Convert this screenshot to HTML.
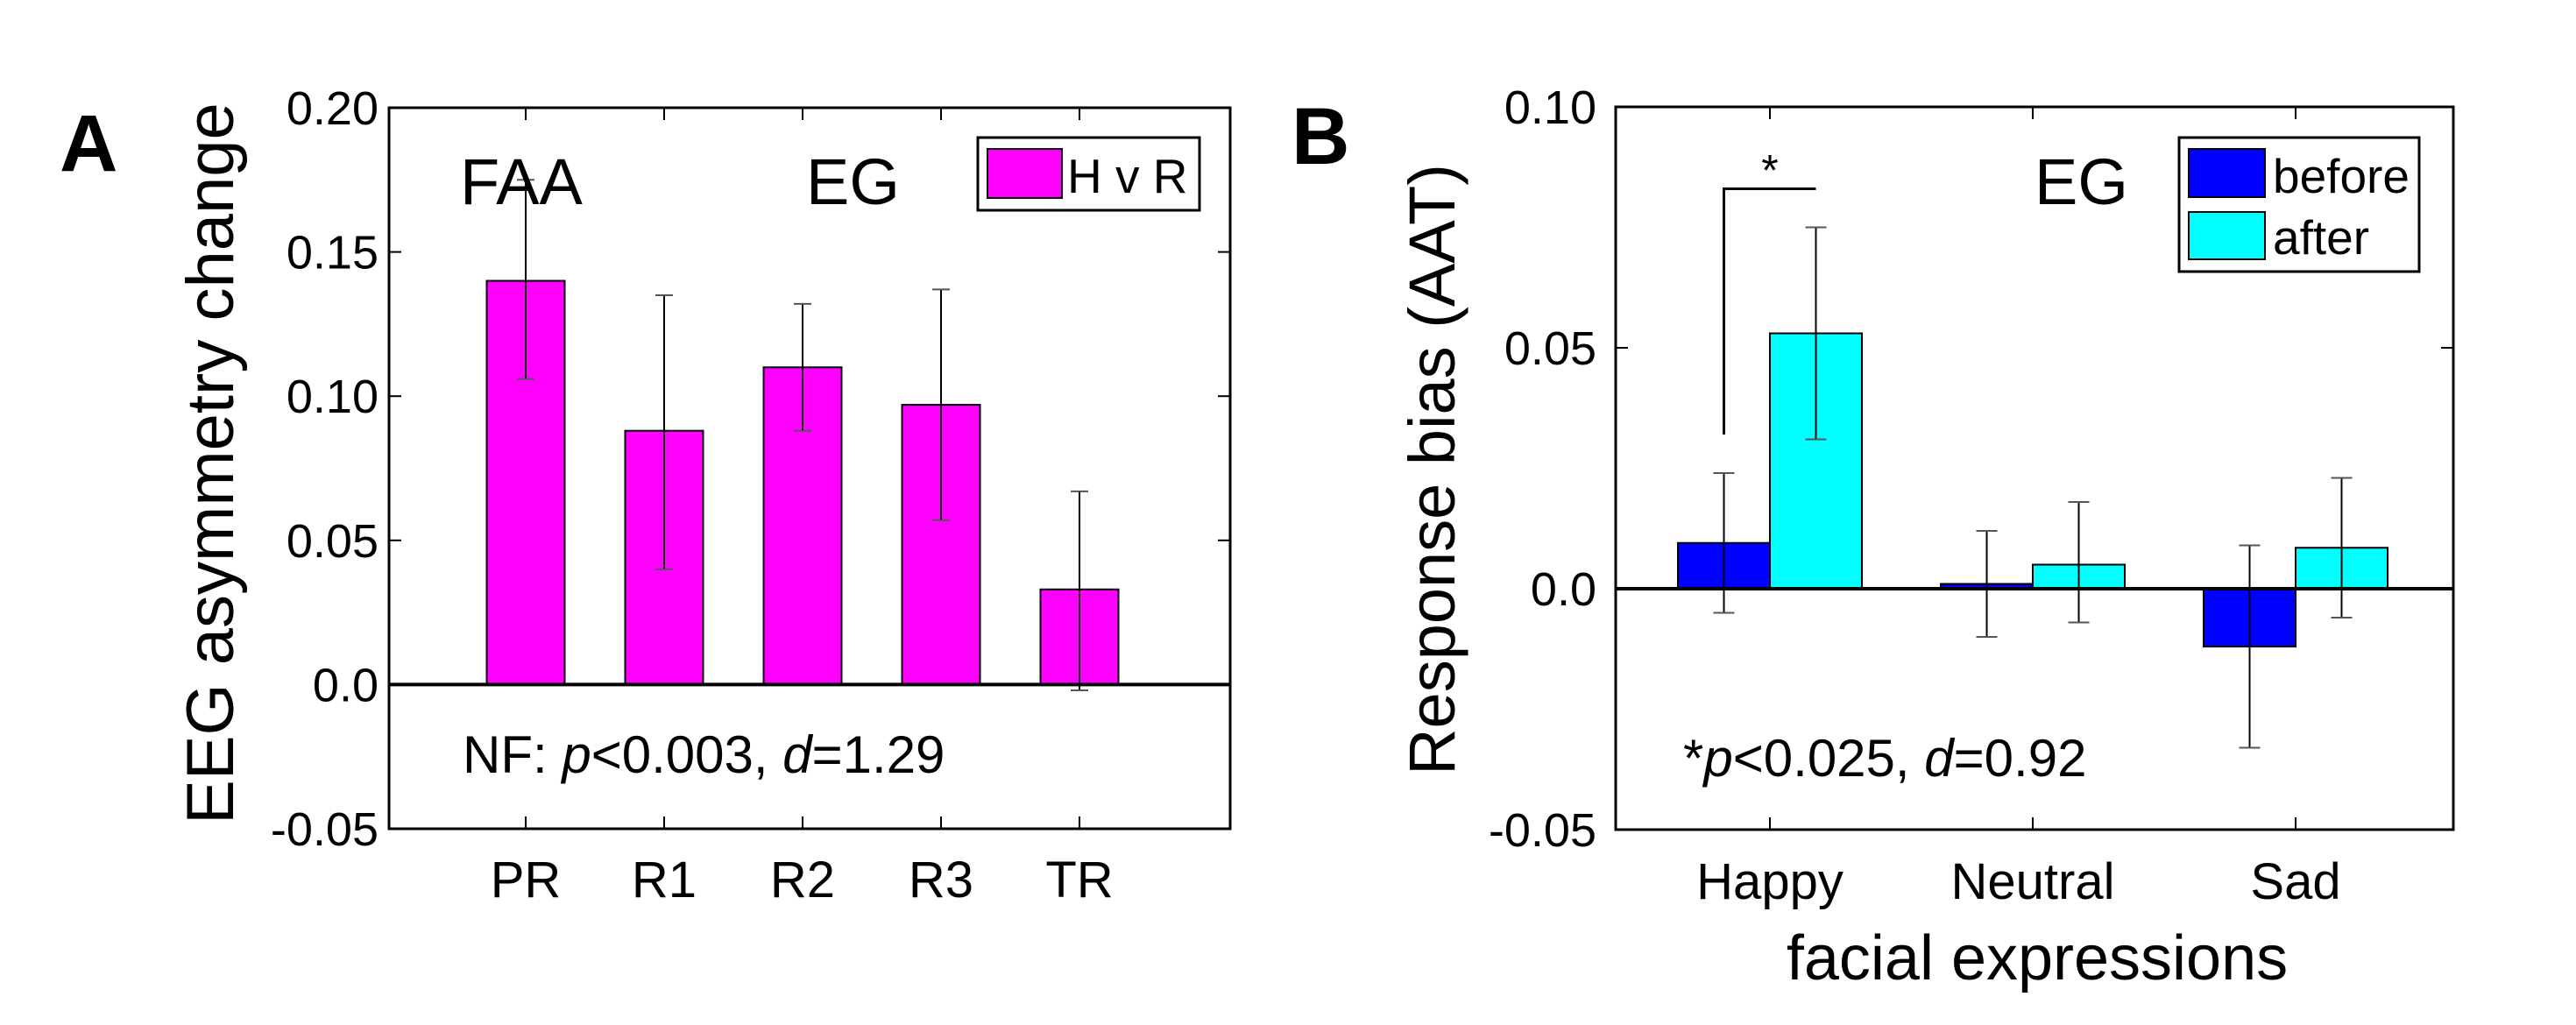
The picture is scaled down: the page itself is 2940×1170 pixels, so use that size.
<!DOCTYPE html>
<html><head><meta charset="utf-8"><style>
html,body{margin:0;padding:0;background:#fff;width:2940px;height:1170px;overflow:hidden}
svg text{font-family:"Liberation Sans",Arial,sans-serif;fill:#000}
</style></head><body>
<svg id="fig" width="2940" height="1170" viewBox="0 0 2940 1170" xmlns="http://www.w3.org/2000/svg">
<g id="pa"></g>
<g id="pb"></g>
</svg>
<script>
// Panel A data
const catsA = ["PR","R1","R2","R3","TR"];
const valsA = [0.140, 0.088, 0.110, 0.097, 0.033];
const errLoA = [0.106, 0.040, 0.088, 0.057, -0.002];
const errHiA = [0.175, 0.135, 0.132, 0.137, 0.067];
const ticksA = [0.20, 0.15, 0.10, 0.05, 0.0, -0.05];
const tickLabelsA = ["0.20","0.15","0.10","0.05","0.0","-0.05"];
// Panel B data
const catsB = ["Happy","Neutral","Sad"];
const beforeB = [0.0095, 0.001, -0.012];
const afterB = [0.053, 0.005, 0.0085];
const beforeLoB = [-0.005, -0.010, -0.033];
const beforeHiB = [0.024, 0.012, 0.009];
const afterLoB = [0.031, -0.007, -0.006];
const afterHiB = [0.075, 0.018, 0.023];
const ticksB = [0.10, 0.05, 0.0, -0.05];
const tickLabelsB = ["0.10","0.05","0.0","-0.05"];

const NS="http://www.w3.org/2000/svg";
function mk(parent,tag,attrs,txt){const e=document.createElementNS(NS,tag);for(const k in attrs)e.setAttribute(k,attrs[k]);if(txt!==undefined)e.textContent=txt;parent.appendChild(e);return e;}

// ---------- Panel A ----------
(function(){
const g=document.getElementById('pa');
const L=444,R=1404,T=123,B=946,ymax=0.20,ymin=-0.05;
const y=v=>T+(ymax-v)/(ymax-ymin)*(B-T);
const x0=600,dx=158,bw=89;
const x=i=>x0+i*dx;
let e;
ticksA.forEach((t,i)=>{
 e=mk(g,'line',{x1:L,x2:L+14,y1:y(t),y2:y(t),stroke:'#000','stroke-width':2});
 
 
 e=mk(g,'line',{x1:R,x2:R-14,y1:y(t),y2:y(t),stroke:'#000','stroke-width':2});
 
 
 e=mk(g,'text',{x:432,y:y(t)+19,'text-anchor':'end','font-size':54},tickLabelsA[i]);
 
 
});
catsA.forEach((c,i)=>{
 const v=valsA[i];
 e=mk(g,'rect',{x:x(i)-bw/2,y:y(Math.max(v,0)),width:bw,height:Math.abs(y(v)-y(0)),fill:'#ff00ff',stroke:'#000','stroke-width':2});
 
 
 e=mk(g,'line',{x1:x(i),x2:x(i),y1:y(errLoA[i]),y2:y(errHiA[i]),stroke:'#000','stroke-width':2});
 
 
 [errLoA[i],errHiA[i]].forEach(w=>{
  e=mk(g,'line',{x1:x(i)-10,x2:x(i)+10,y1:y(w),y2:y(w),stroke:'#555','stroke-width':2});
  
  
 });
 e=mk(g,'line',{x1:x(i),x2:x(i),y1:B,y2:B-14,stroke:'#000','stroke-width':2});
 
 
 e=mk(g,'line',{x1:x(i),x2:x(i),y1:T,y2:T+14,stroke:'#000','stroke-width':2});
 
 
 e=mk(g,'text',{x:x(i),y:1024,'text-anchor':'middle','font-size':58},c);
 
 
});
e=mk(g,'line',{x1:L,x2:R,y1:y(0),y2:y(0),stroke:'#000','stroke-width':4});


e=mk(g,'rect',{x:L,y:T,width:R-L,height:B-T,fill:'none',stroke:'#000','stroke-width':3});


})();

// ---------- Panel B ----------
(function(){
const g=document.getElementById('pb');
const L=1844,R=2800,T=122,B=947,ymax=0.10,ymin=-0.05;
const y=v=>T+(ymax-v)/(ymax-ymin)*(B-T);
const x0=2020,dx=300,bw=105;
const x=i=>x0+i*dx;
let e;
ticksB.forEach((t,i)=>{
 e=mk(g,'line',{x1:L,x2:L+14,y1:y(t),y2:y(t),stroke:'#000','stroke-width':2});
 
 
 e=mk(g,'line',{x1:R,x2:R-14,y1:y(t),y2:y(t),stroke:'#000','stroke-width':2});
 
 
 e=mk(g,'text',{x:1822,y:y(t)+19,'text-anchor':'end','font-size':54},tickLabelsB[i]);
 
 
});
catsB.forEach((c,i)=>{
 const series=[[beforeB[i],beforeLoB[i],beforeHiB[i],'#0000ff',-1,'before'],[afterB[i],afterLoB[i],afterHiB[i],'#00ffff',1,'after']];
 series.forEach(s=>{
  const cx=x(i)+s[4]*bw/2;
  e=mk(g,'rect',{x:cx-bw/2,y:y(Math.max(s[0],0)),width:bw,height:Math.max(Math.abs(y(s[0])-y(0)),1),fill:s[3],stroke:'#000','stroke-width':2});
  
  
  e=mk(g,'line',{x1:cx,x2:cx,y1:y(s[1]),y2:y(s[2]),stroke:'#000','stroke-width':2});
  
  
  [s[1],s[2]].forEach(w=>{
   e=mk(g,'line',{x1:cx-12,x2:cx+12,y1:y(w),y2:y(w),stroke:'#555','stroke-width':2});
   
   
  });
 });
 e=mk(g,'line',{x1:x(i),x2:x(i),y1:B,y2:B-14,stroke:'#000','stroke-width':2});
 
 
 e=mk(g,'line',{x1:x(i),x2:x(i),y1:T,y2:T+14,stroke:'#000','stroke-width':2});
 
 
 e=mk(g,'text',{x:x(i),y:1026,'text-anchor':'middle','font-size':58},c);
 
 
});
// significance bracket
const bx1=x(0)-bw/2, bx2=x(0)+bw/2;
e=mk(g,'polyline',{points:`${bx1},${y(0.032)} ${bx1},${y(0.083)} ${bx2},${y(0.083)}`,fill:'none',stroke:'#000','stroke-width':3});


e=mk(g,'text',{x:x(0),y:y(0.083)-4,'text-anchor':'middle','font-size':50},'*');


e=mk(g,'line',{x1:L,x2:R,y1:y(0),y2:y(0),stroke:'#000','stroke-width':4});


e=mk(g,'rect',{x:L,y:T,width:R-L,height:B-T,fill:'none',stroke:'#000','stroke-width':3});


})();
</script>
<svg style="position:absolute;left:0;top:0" width="2940" height="1170">
<text x="68" y="195" font-size="92" font-weight="bold">A</text>
<text transform="translate(266,529) rotate(-90)" text-anchor="middle" font-size="76">EEG asymmetry change</text>
<text x="525" y="233" font-size="74">FAA</text>
<text x="920" y="233" font-size="74">EG</text>
<g>
<rect x="1116" y="157" width="253" height="83" fill="#fff" stroke="#000" stroke-width="3"/>
<rect x="1127" y="170" width="85" height="56" fill="#ff00ff" stroke="#000" stroke-width="2"/>
<text x="1218" y="220" font-size="55">H v R</text>
</g>
<text x="528" y="882" font-size="60">NF: <tspan font-style="italic">p</tspan>&lt;0.003, <tspan font-style="italic">d</tspan>=1.29</text>

<text x="1474" y="187" font-size="92" font-weight="bold">B</text>
<text transform="translate(1660,536) rotate(-90)" text-anchor="middle" font-size="74">Response bias (AAT)</text>
<text x="2322" y="233" font-size="74">EG</text>
<g>
<rect x="2487" y="157" width="274" height="153" fill="#fff" stroke="#000" stroke-width="3"/>
<rect x="2498" y="170" width="87" height="55" fill="#0000ff" stroke="#000" stroke-width="2"/>
<text x="2594" y="220" font-size="55">before</text>
<rect x="2498" y="242" width="87" height="54" fill="#00ffff" stroke="#000" stroke-width="2"/>
<text x="2594" y="290" font-size="55">after</text>
</g>
<text x="1921" y="886" font-size="60">*<tspan font-style="italic">p</tspan>&lt;0.025, <tspan font-style="italic">d</tspan>=0.92</text>
<text x="2325" y="1118" text-anchor="middle" font-size="72">facial expressions</text>
</svg>
</body></html>
